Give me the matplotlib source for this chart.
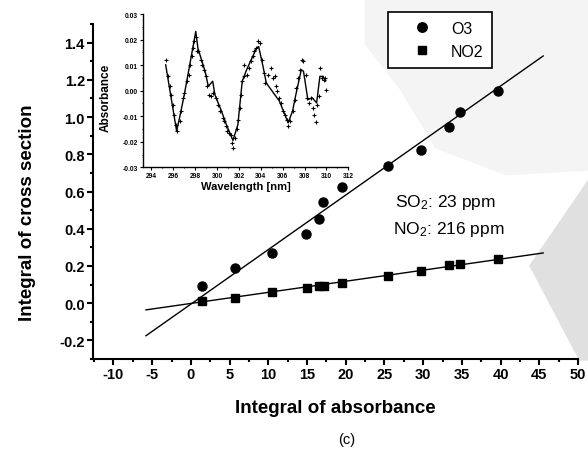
import matplotlib
matplotlib.use('Agg')
import matplotlib.pyplot as plt
from matplotlib.patches import Polygon
from matplotlib.ticker import MultipleLocator
import numpy as np

plt.rcParams.update({
    'font.family': ['Liberation Sans', 'DejaVu Sans'],
    'mathtext.default': 'regular',
    'axes.unicode_minus': False,
    'axes.linewidth': 1.5,
})

# main plot: integral of absorbance vs integral of cross section
o3_x = [1.4, 5.7, 10.5, 14.9, 16.5, 17.1, 19.5, 25.4, 29.7, 33.3, 34.7, 39.7]
o3_y = [0.093, 0.187, 0.270, 0.372, 0.453, 0.546, 0.624, 0.737, 0.825, 0.947, 1.028, 1.141]
no2_x = [1.4, 5.7, 10.5, 15.0, 16.5, 17.2, 19.5, 25.4, 29.7, 33.3, 34.7, 39.7]
no2_y = [0.012, 0.030, 0.058, 0.079, 0.090, 0.093, 0.110, 0.144, 0.174, 0.203, 0.210, 0.237]

# linear fits (slope, intercept) and drawn range
o3_fit = (0.0293, -0.005)
no2_fit = (0.00596, -0.0014)
fit_range = [-5.8, 45.5]

# inset: absorbance spectrum
fit_wl = [295.3, 296.3, 296.6, 297.0, 297.5, 298.05, 298.25, 298.9, 299.2, 299.6,
          299.8, 300.4, 300.85, 301.45, 301.9, 302.3, 302.7, 303.6, 303.8, 304.2,
          304.5, 305.7, 306.5, 306.9, 307.2, 307.7, 307.9, 308.3, 308.7, 309.1,
          309.4, 309.7, 309.9]
fit_abs = [0.0101, -0.0158, -0.0100, -0.0016, 0.0101, 0.0232, 0.0166, 0.0076, 0.0017, 0.0037,
           -0.0016, -0.0080, -0.0133, -0.0195, -0.0133, 0.0037, 0.0082, 0.0166, 0.0173, 0.0095,
           0.0030, -0.0041, -0.0126, -0.0080, -0.0016, 0.0082, 0.0076, -0.0035, -0.0028, -0.0048,
           0.0056, 0.0056, 0.0037]

meas_wl = [295.3, 295.5, 295.7, 295.8, 296.0, 296.1, 296.2, 296.3, 296.6, 296.7,
           296.9, 297.0, 297.25, 297.4, 297.5, 297.7, 297.8, 297.9, 298.05, 298.2,
           298.3, 298.5, 298.65, 298.8, 299.0, 299.1, 299.25, 299.4, 299.6, 299.9,
           300.1, 300.3, 300.5, 300.6, 300.8, 300.9, 301.1, 301.3, 301.4, 301.45,
           301.6, 301.8, 301.9, 302.1, 302.2, 302.3, 302.5, 302.5, 302.7, 302.9,
           303.1, 303.3, 303.4, 303.6, 303.75, 303.95, 304.1, 304.3, 304.4, 304.7,
           304.9, 305.1, 305.3, 305.4, 305.5, 305.7, 305.8, 306.0, 306.2, 306.4,
           306.5, 306.7, 306.9, 307.1, 307.2, 307.4, 307.6, 307.8, 307.9, 308.1,
           308.2, 308.4, 308.6, 308.8, 308.9, 309.0, 309.1, 309.3, 309.4, 309.6,
           309.8, 309.9, 310.0]
meas_abs = [0.0121, 0.0056, 0.0017, -0.0016, -0.0055, -0.0094, -0.0133, -0.0158, -0.0119, -0.0080,
            -0.0028, -0.0009, 0.0037, 0.0062, 0.0101, 0.0134, 0.0166, 0.0193, 0.0212, 0.0154,
            0.0154, 0.0121, 0.0101, 0.0082, 0.0056, 0.0017, -0.0016, -0.0022, -0.0009, -0.0028,
            -0.0055, -0.0080, -0.0106, -0.0119, -0.0139, -0.0158, -0.0165, -0.0172, -0.0204, -0.0226,
            -0.0184, -0.0152, -0.0113, -0.0067, -0.0016, 0.0037, 0.0056, 0.0101, 0.0062, 0.0088,
            0.0115, 0.0134, 0.0154, 0.0166, 0.0193, 0.0186, 0.0121, 0.0069, 0.0030, 0.0062,
            0.0088, 0.0050, 0.0056, 0.0017, -0.0002, -0.0028, -0.0048, -0.0080, -0.0094, -0.0113,
            -0.0139, -0.0119, -0.0080, -0.0035, 0.0011, 0.0050, 0.0082, 0.0121, 0.0115, 0.0062,
            -0.0028, -0.0048, -0.0028, -0.0067, -0.0094, -0.0122, -0.0055, -0.0022, 0.0088, 0.0050,
            0.0043, 0.0050, 0.0004]

fig = plt.figure(figsize=(5.88, 4.52), dpi=100)

# scanner halftone shading on the right (behind everything)
fig.patches.append(Polygon([(0.62, 1.0), (1.0, 1.0), (1.0, 0.62), (0.86, 0.61),
                            (0.74, 0.67), (0.68, 0.80), (0.62, 0.90)],
                           closed=True, transform=fig.transFigure,
                           fc='#f4f4f4', ec='none', zorder=-10))
fig.patches.append(Polygon([(1.0, 0.60), (0.90, 0.41), (0.985, 0.20), (1.0, 0.20)],
                           closed=True, transform=fig.transFigure,
                           fc='#e0e0e0', ec='none', zorder=-10))

ax = fig.add_axes([0.1587, 0.2035, 0.8243, 0.7412])
ax.set_facecolor('none')

xs = np.array(fit_range)
ax.plot(xs, o3_fit[0] * xs + o3_fit[1], color='black', lw=1.0)
ax.plot(xs, no2_fit[0] * xs + no2_fit[1], color='black', lw=1.0)
ax.plot(o3_x, o3_y, 'o', color='black', ms=6.5, label='O3')
ax.plot(no2_x, no2_y, 's', color='black', ms=6, label='NO2')

ax.set_xlim(-12.6, 50)
ax.set_ylim(-0.3, 1.5)
ax.xaxis.set_major_locator(MultipleLocator(5))
ax.xaxis.set_minor_locator(MultipleLocator(2.5))
ax.yaxis.set_minor_locator(MultipleLocator(0.1))
ax.set_yticks([-0.2, 0.0, 0.2, 0.4, 0.6, 0.8, 1.0, 1.2, 1.4])
ax.tick_params(which='major', length=4, width=1.5, labelsize=10.5, pad=2)
ax.tick_params(which='minor', length=2.5, width=1.5)
for lab in ax.get_xticklabels() + ax.get_yticklabels():
    lab.set_fontweight('bold')
ax.spines['top'].set_visible(False)
ax.spines['right'].set_visible(False)

ax.set_xlabel('Integral of absorbance', fontsize=13.5, fontweight='bold', labelpad=13)
ax.set_ylabel('Integral of cross section', fontsize=13.5, fontweight='bold')
ax.yaxis.set_label_coords(-0.118, 0.44)

ax.text(26.3, 0.544, 'SO$_2$: 23 ppm', fontsize=12.5, ha='left', va='center')
ax.text(26.05, 0.399, 'NO$_2$: 216 ppm', fontsize=12.5, ha='left', va='center')

leg = ax.legend(loc='upper left', bbox_to_anchor=(0.66, 0.971),
                bbox_transform=fig.transFigure, fontsize=11.5, frameon=True,
                fancybox=False, edgecolor='black', framealpha=1,
                handlelength=3.2, handletextpad=0.2, borderpad=0.55,
                borderaxespad=0, labelspacing=0.5, markerscale=1.05)
leg.get_frame().set_linewidth(1.2)

fig.text(0.59, 0.027, '(c)', fontsize=10.5, ha='center', va='center')

# inset spectrum
ins = fig.add_axes([0.2427, 0.6277, 0.3497, 0.339])
ins.set_facecolor('none')
ins.plot(fit_wl, fit_abs, color='black', lw=1.0)
ins.plot(meas_wl, meas_abs, '+', color='black', ms=2.5, mew=0.8)
ins.set_xlim(293.2, 312)
ins.set_ylim(-0.03, 0.03)
ins.set_xticks(np.arange(294, 313, 2))
ins.set_yticks([-0.03, -0.02, -0.01, 0.0, 0.01, 0.02, 0.03])
ins.xaxis.set_minor_locator(MultipleLocator(1))
ins.yaxis.set_minor_locator(MultipleLocator(0.005))
ins.tick_params(which='major', length=2, width=0.8, labelsize=4.8, pad=1.5)
ins.tick_params(which='minor', length=1, width=0.8)
for lab in ins.get_xticklabels() + ins.get_yticklabels():
    lab.set_fontweight('bold')
for s in ('top', 'right'):
    ins.spines[s].set_visible(False)
for s in ('left', 'bottom'):
    ins.spines[s].set_linewidth(1.0)
ins.set_xlabel('Wavelength [nm]', fontsize=8, fontweight='bold', labelpad=1)
ins.set_ylabel('Absorbance', fontsize=8.5, fontweight='bold')
ins.yaxis.set_label_coords(-0.15, 0.46)

fig.savefig('out.png', dpi=100)
